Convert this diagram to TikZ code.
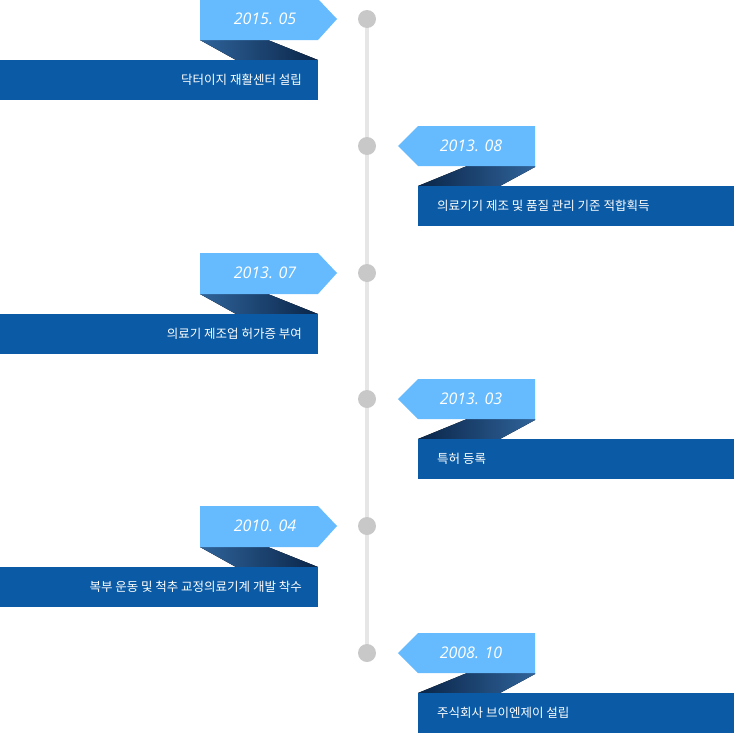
\documentclass[tikz,border=0pt]{standalone}
\usepackage{fontspec}
\newfontfamily\kr{Noto Sans CJK KR}
\newfontfamily\dt{Open Sans}
\begin{document}
\begin{tikzpicture}[x=1pt,y=-1pt,
  tagc/.style={fill=tagblue,draw=none},
  boxc/.style={fill=boxblue,draw=none},
  datetxt/.style={text=white,font=\dt\itshape\fontsize{16}{18}\selectfont,inner sep=0},
  bodytxt/.style={text=white,font=\kr\fontsize{12.5}{14}\selectfont,inner sep=0},
  dotc/.style={circle,fill=dotgray,minimum size=18,inner sep=0}]
\definecolor{tagblue}{HTML}{66BBFF}
\definecolor{boxblue}{HTML}{0A5AA5}
\definecolor{shadark}{HTML}{0A2548}
\definecolor{shalight}{HTML}{2F639A}
\definecolor{dotgray}{HTML}{C8C8C8}
\definecolor{linegray}{HTML}{E6E6E6}
\useasboundingbox (0,0) rectangle (734,734);
\coordinate (top) at (367,19);
\coordinate (bot) at (367,653);
\draw[linegray,line width=4] (top) -- (bot);
% left items
\foreach \y/\d/\t in {19/2015. 05/닥터이지 재활센터 설립 / 의료기기 판매업 신고 획득, 273/2013. 07/의료기 제조업 허가증 부여, 526/2010. 04/복부 운동 및 척추 교정의료기계 개발 착수}{
  \fill[left color=shalight,right color=shadark] (200,\y+21) -- (268,\y+21) -- (318,\y+41) -- (236,\y+41) -- cycle;
  \fill[tagc] (200,\y-20) -- (318,\y-20) -- (337,\y) -- (318,\y+21) -- (200,\y+21) -- cycle;
  \node[datetxt] at (265,\y) {\d};
  \fill[boxc] (0,\y+41) rectangle (318,\y+81);
  \node[bodytxt,anchor=east] at (302,\y+61) {\t};
}
% right items
\foreach \y/\d/\t in {146/2013. 08/의료기기 제조 및 품질 관리 기준 적합획득, 399/2013. 03/특허 등록, 653/2008. 10/주식회사 브이엔제이 설립}{
  \fill[left color=shadark,right color=shalight] (467,\y+20) -- (535,\y+20) -- (535,\y+21) -- (500,\y+40) -- (418,\y+40) -- cycle;
  \fill[tagc] (535,\y-20) -- (418,\y-20) -- (398,\y) -- (418,\y+20) -- (535,\y+20) -- cycle;
  \node[datetxt] at (471,\y) {\d};
  \fill[boxc] (418,\y+40) rectangle (734,\y+80);
  \node[bodytxt,anchor=west] at (437,\y+60) {\t};
}
\foreach \y/\n in {19/d1,146/d2,273/d3,399/d4,526/d5,653/d6}{
  \node[dotc] (\n) at (367,\y) {};
}
\end{tikzpicture}
\end{document}
